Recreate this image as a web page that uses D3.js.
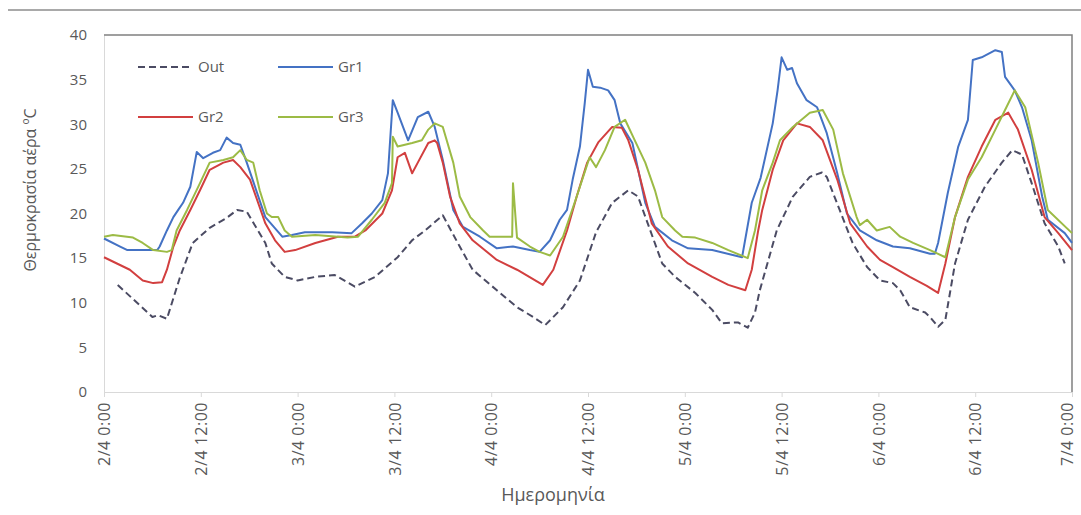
<!DOCTYPE html>
<html>
<head>
<meta charset="utf-8">
<script src="https://cdn.jsdelivr.net/npm/d3@7"></script>
<style>
  body { margin: 0; background: #fff; }
  text { font-family: "Open Sans", "DejaVu Sans", sans-serif; fill: #595959; }
</style>
</head>
<body>
<div id="chart-area"></div>
<script>

// Data: [hours since 2/4 0:00, temperature ºC]
let outData = [[1.7,12.0],[6.0,8.4],[6.7,8.6],[7.8,8.2],[9.4,12.8],[11.0,16.7],[13.1,18.4],[15.2,19.5],[16.5,20.4],[17.7,20.2],
  [20.0,16.7],[20.8,14.4],[22.4,12.9],[24.0,12.5],[26.2,12.9],[28.6,13.1],[31.1,11.8],[33.6,12.9],[36.4,15.1],[38.2,17.0],
  [39.8,18.1],[42.0,19.8],[44.1,16.3],[45.7,13.7],[48.7,11.4],[51.2,9.5],[53.2,8.4],[54.7,7.5],[56.9,9.5],[59.0,12.5],
  [61.0,17.9],[63.0,21.2],[65.0,22.6],[66.2,21.9],[69.2,14.4],[70.8,12.9],[73.3,11.1],[75.4,9.2],[76.6,7.7],[78.6,7.8],
  [79.8,7.2],[80.7,8.9],[81.3,11.4],[83.4,18.1],[85.4,21.9],[87.5,24.1],[89.0,24.6],[89.6,24.1],[91.2,20.4],[92.8,16.7],
  [94.6,14.0],[96.2,12.5],[97.8,12.2],[98.7,11.4],[99.9,9.5],[101.8,8.9],[102.4,8.4],[103.4,7.3],[104.3,8.1],[105.5,14.4],
  [107.1,19.3],[109.2,23.0],[111.3,25.7],[112.6,27.1],[113.8,26.6],[115.0,23.4],[116.6,18.9],[118.3,16.3],[119.1,14.4]];

let gr1Data = [[0,17.2],[2.0,16.3],[2.9,15.9],[4.5,15.9],[6.6,15.9],[6.9,16.3],[7.8,18.1],[8.6,19.6],[9.2,20.4],[9.8,21.2],
  [10.7,23.0],[11.5,26.9],[12.3,26.2],[13.5,26.8],[14.4,27.1],[15.2,28.5],[16.0,27.9],[16.9,27.7],[17.7,25.7],[20.0,19.6],
  [22.1,17.4],[23.3,17.6],[24.9,17.9],[28.3,17.9],[30.7,17.8],[32.0,18.9],[33.2,20.0],[34.5,21.5],[35.2,24.5],[35.8,32.7],
  [36.4,31.3],[37.7,28.2],[38.9,30.8],[40.2,31.4],[41.0,29.7],[42.0,26.0],[43.3,20.4],[44.5,18.5],[46.6,17.4],[48.7,16.1],
  [50.7,16.3],[52.8,15.9],[54.0,15.7],[55.3,17.0],[56.5,19.3],[57.4,20.4],[58.1,23.8],[59.0,27.5],[59.6,32.4],[60.0,36.1],
  [60.6,34.2],[61.5,34.1],[62.5,33.8],[63.3,32.7],[64.0,30.1],[65.5,27.9],[67.1,21.2],[68.3,18.5],[70.4,17.0],[72.4,16.1],
  [75.4,15.9],[79.1,15.1],[80.3,21.2],[81.4,24.0],[82.9,30.1],[83.5,33.8],[84.0,37.5],[84.7,36.1],[85.3,36.3],[85.9,34.6],
  [87.1,32.7],[88.4,31.9],[89.6,29.0],[90.9,24.5],[92.1,20.0],[93.7,18.1],[95.8,17.0],[97.8,16.3],[99.9,16.1],[102.4,15.5],
  [103.0,15.5],[103.4,16.7],[104.6,22.3],[105.9,27.5],[107.1,30.5],[107.7,37.2],[108.8,37.5],[110.5,38.3],[111.3,38.1],[111.7,35.3],
  [112.9,33.8],[113.8,31.9],[115.0,28.2],[116.3,21.9],[117.0,19.3],[119.1,17.8],[120,16.7]];

let gr2Data = [[0,15.1],[1.6,14.4],[3.2,13.7],[4.8,12.5],[6.1,12.2],[7.2,12.3],[7.8,13.7],[8.6,16.3],[9.4,18.1],[10.7,20.4],
  [11.9,22.6],[13.1,24.9],[14.8,25.7],[16.0,26.0],[16.9,25.2],[18.1,23.8],[19.3,20.7],[20.0,18.9],[21.2,17.0],[22.4,15.7],
  [23.7,15.9],[26.2,16.7],[29.0,17.4],[31.1,17.4],[32.4,18.1],[34.5,20.0],[35.7,22.6],[36.4,26.3],[37.3,26.8],[38.2,24.5],
  [38.9,25.7],[40.2,27.9],[41.0,28.2],[41.3,27.9],[42.0,25.7],[42.9,21.9],[44.1,18.9],[45.7,17.0],[48.7,14.8],[51.2,13.7],
  [54.4,12.0],[55.7,13.7],[57.4,18.1],[58.6,21.9],[59.9,25.7],[61.3,28.0],[63.0,29.7],[64.2,29.6],[65.0,28.2],[66.2,24.9],
  [67.9,18.9],[69.9,16.3],[72.4,14.4],[75.4,12.9],[77.4,12.0],[79.5,11.4],[80.3,13.7],[81.1,18.1],[81.6,20.4],[82.9,24.9],
  [84.2,28.2],[85.9,30.1],[87.5,29.7],[89.1,28.2],[90.9,23.8],[92.5,18.9],[94.6,16.3],[96.2,14.8],[97.8,14.0],[99.9,12.9],
  [102.0,11.9],[103.4,11.1],[104.3,14.4],[105.5,19.6],[107.1,24.1],[108.8,27.5],[110.5,30.5],[112.1,31.3],[113.3,29.4],[115.0,24.9],
  [116.6,19.6],[118.3,17.8],[120,15.9]];

let gr3Data = [[0,17.4],[1.1,17.6],[3.6,17.3],[4.8,16.7],[6.1,15.9],[7.8,15.7],[8.4,15.9],[9.0,18.1],[10.3,20.4],[11.9,23.4],
  [13.1,25.7],[14.8,26.0],[16.0,26.3],[16.9,27.1],[17.7,26.0],[18.5,25.7],[19.3,22.6],[20.2,20.0],[20.8,19.6],[21.6,19.6],
  [22.4,18.1],[23.3,17.4],[26.2,17.6],[30.2,17.3],[31.5,17.4],[33.2,19.3],[34.8,21.2],[35.7,23.4],[35.8,28.6],[36.4,27.5],
  [38.2,27.9],[39.4,28.2],[40.2,29.4],[41.0,30.1],[42.0,29.7],[43.3,25.7],[44.1,21.9],[45.4,19.6],[47.0,18.1],[47.8,17.4],
  [50.6,17.4],[50.7,23.4],[51.2,17.3],[52.8,16.3],[54.0,15.7],[55.3,15.3],[56.9,17.4],[58.6,21.9],[60.2,26.3],[61.0,25.2],
  [62.1,27.1],[63.3,29.7],[64.6,30.5],[65.8,28.2],[67.1,25.7],[68.3,22.6],[69.2,19.6],[70.8,18.1],[71.7,17.4],[73.3,17.3],
  [75.4,16.7],[77.4,15.9],[79.8,15.0],[80.7,18.1],[81.6,22.6],[82.9,25.7],[83.8,28.2],[85.4,29.7],[87.5,31.3],[89.1,31.6],
  [90.4,29.4],[91.6,24.5],[93.3,19.6],[93.7,18.7],[94.6,19.3],[95.8,18.1],[97.4,18.5],[98.7,17.4],[100.3,16.7],[102.4,15.9],
  [104.3,15.1],[105.5,19.6],[107.1,23.8],[108.8,26.3],[110.5,29.4],[111.7,31.6],[112.9,33.8],[114.2,31.9],[115.8,25.7],[117.0,20.4],
  [120,17.8]];

let xTicks = [0, 12, 24, 36, 48, 60, 72, 84, 96, 108, 120];
let yTicks = [0, 5, 10, 15, 20, 25, 30, 35, 40];

let series = [
  {name: "Out", data: outData, color: "#4b4b63", dash: "7,4"},
  {name: "Gr1", data: gr1Data, color: "#4472c4", dash: null},
  {name: "Gr2", data: gr2Data, color: "#d23f3f", dash: null},
  {name: "Gr3", data: gr3Data, color: "#9cbb45", dash: null}
];

// Variable
let W = 1081, H = 515;
let m = {top: 35, right: 9, bottom: 123, left: 104};  // margin
let w = W - m.left - m.right; // width
let h = H - m.top - m.bottom; // height

// make SVG - Canvas
let svg = d3.select("#chart-area")
    .append("svg")
    .attr("width", W)
    .attr("height", H);

// top rule of the figure
svg.append("line")
    .attr("x1", 8).attr("x2", W)
    .attr("y1", 10).attr("y2", 10)
    .attr("stroke", "#8c8c8c")
    .attr("stroke-width", 1.5);

let g = svg.append("g")
    .attr("transform", "translate(" + m.left + "," + m.top + ")");

// scales
let x = d3.scaleLinear().domain([0, 120]).range([0, w]);
let y = d3.scaleLinear().domain([0, 40]).range([h, 0]);

// Axis
let xAxisCall = d3.axisBottom(x)
    .tickValues(xTicks)
    .tickSize(5)
    .tickFormat(function(d){ return (2 + Math.floor(d / 24)) + "/4 " + (d % 24) + ":00"; });
let xAxis = g.append("g")
    .attr("class", "x axis")
    .attr("transform", "translate(0," + h + ")")
    .call(xAxisCall);
xAxis.select(".domain").attr("stroke", "#d9d9d9");
xAxis.selectAll(".tick line").attr("stroke", "#d9d9d9");
xAxis.selectAll("text")
    .attr("font-size", "16px")
    .attr("letter-spacing", "0.5px")
    .attr("fill", "#595959")
    .attr("text-anchor", "end")
    .attr("transform", "rotate(-90)")
    .attr("x", -10)
    .attr("y", 0)
    .attr("dy", function(d){ return d === 120 ? "0.05em" : "0.35em"; }); // keep last one inside the page

let yAxisCall = d3.axisLeft(y)
    .tickValues(yTicks)
    .tickSize(0)
    .tickPadding(17);
let yAxis = g.append("g")
    .attr("class", "y axis")
    .call(yAxisCall);
yAxis.select(".domain").attr("stroke", "#d9d9d9");
yAxis.selectAll("text")
    .attr("font-size", "15px")
    .attr("fill", "#595959");

// top and right border of plot area
g.append("path")
    .attr("d", "M0,0H" + w + "V" + h)
    .attr("fill", "none")
    .attr("stroke", "#808080")
    .attr("stroke-width", 1.5);

// lines
let line = d3.line()
    .x(function(d){ return x(d[0]); })
    .y(function(d){ return y(d[1]); });

series.forEach(function(s){
  g.append("path")
      .datum(s.data)
      .attr("fill", "none")
      .attr("stroke", s.color)
      .attr("stroke-width", 2)
      .attr("stroke-linejoin", "round")
      .attr("stroke-dasharray", s.dash)
      .attr("d", line);
});

// Legend
let legend = svg.append("g");
series.forEach(function(s, i){
  let lx = 138 + (i % 2) * 140;
  let ly = 67 + Math.floor(i / 2) * 50;
  legend.append("line")
      .attr("x1", lx).attr("x2", lx + 55)
      .attr("y1", ly).attr("y2", ly)
      .attr("stroke", s.color)
      .attr("stroke-width", 2)
      .attr("stroke-dasharray", s.dash);
  legend.append("text")
      .attr("x", lx + 60)
      .attr("y", ly + 5)
      .attr("font-size", "15px")
      .text(s.name);
});

// Labels
svg.append("text")
    .attr("x", 553)
    .attr("y", 501)
    .attr("font-size", "18px")
    .attr("text-anchor", "middle")
    .text("Ημερομηνία");

svg.append("text")
    .attr("transform", "translate(36,190) rotate(-90)")
    .attr("font-size", "16px")
    .attr("text-anchor", "middle")
    .text("Θερμοκρασία αέρα ºC");

</script>
</body>
</html>
